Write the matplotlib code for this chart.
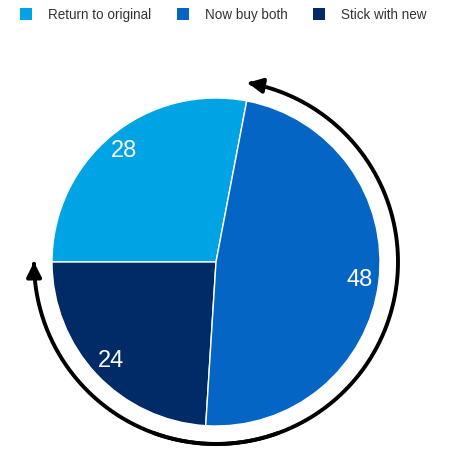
import numpy as np
import matplotlib.pyplot as plt
from matplotlib.patches import FancyArrowPatch, Patch
from matplotlib.path import Path

plt.rcParams['font.family'] = ['Liberation Sans', 'DejaVu Sans']

# data
labels = ['Return to original', 'Stick with new', 'Now buy both']
values = [28, 24, 48]
colors = ['#00a3e4', '#002b66', '#0565c4']
legend_order = [0, 2, 1]

W, H = 459, 449
fig = plt.figure(figsize=(W / 100, H / 100), dpi=100)
ax = fig.add_axes([0, 0, 1, 1])

cx, cy, r = 216, H - 262, 164
start = 90 - 360 * 0.03  # 28/48 boundary just right of top

ax.pie(values, colors=colors, startangle=start, counterclock=True,
       center=(cx, cy), radius=r,
       autopct=lambda p: '%d' % round(p), pctdistance=0.88,
       textprops=dict(color='white', fontsize=17),
       wedgeprops=dict(edgecolor='white', linewidth=1))

# arrows round the pie
ra = 182
def arc(a0, a1):
    t = np.radians(np.linspace(a0, a1, 200))
    pts = np.column_stack([cx + ra * np.cos(t), cy + ra * np.sin(t)])
    codes = [Path.MOVETO] + [Path.LINETO] * (len(pts) - 1)
    return Path(pts, codes)

for a0, a1 in [(250, 440), (290, 180)]:
    ax.add_patch(FancyArrowPatch(path=arc(a0, a1), arrowstyle='-|>',
                                 mutation_scale=22, lw=2.8, color='black'))

ax.set_xlim(0, W)
ax.set_ylim(0, H)
ax.set_aspect('equal')
ax.axis('off')

handles = [Patch(facecolor=colors[i], edgecolor='none') for i in legend_order]
fig.legend(handles, [labels[i] for i in legend_order], ncol=3, frameon=False,
           loc='upper left', bbox_to_anchor=(0.017, 1.01), fontsize=9.75,
           handlelength=0.9, handleheight=0.9, handletextpad=1.2,
           columnspacing=1.85, labelcolor='#333333')

fig.savefig('out.png', dpi=100)
